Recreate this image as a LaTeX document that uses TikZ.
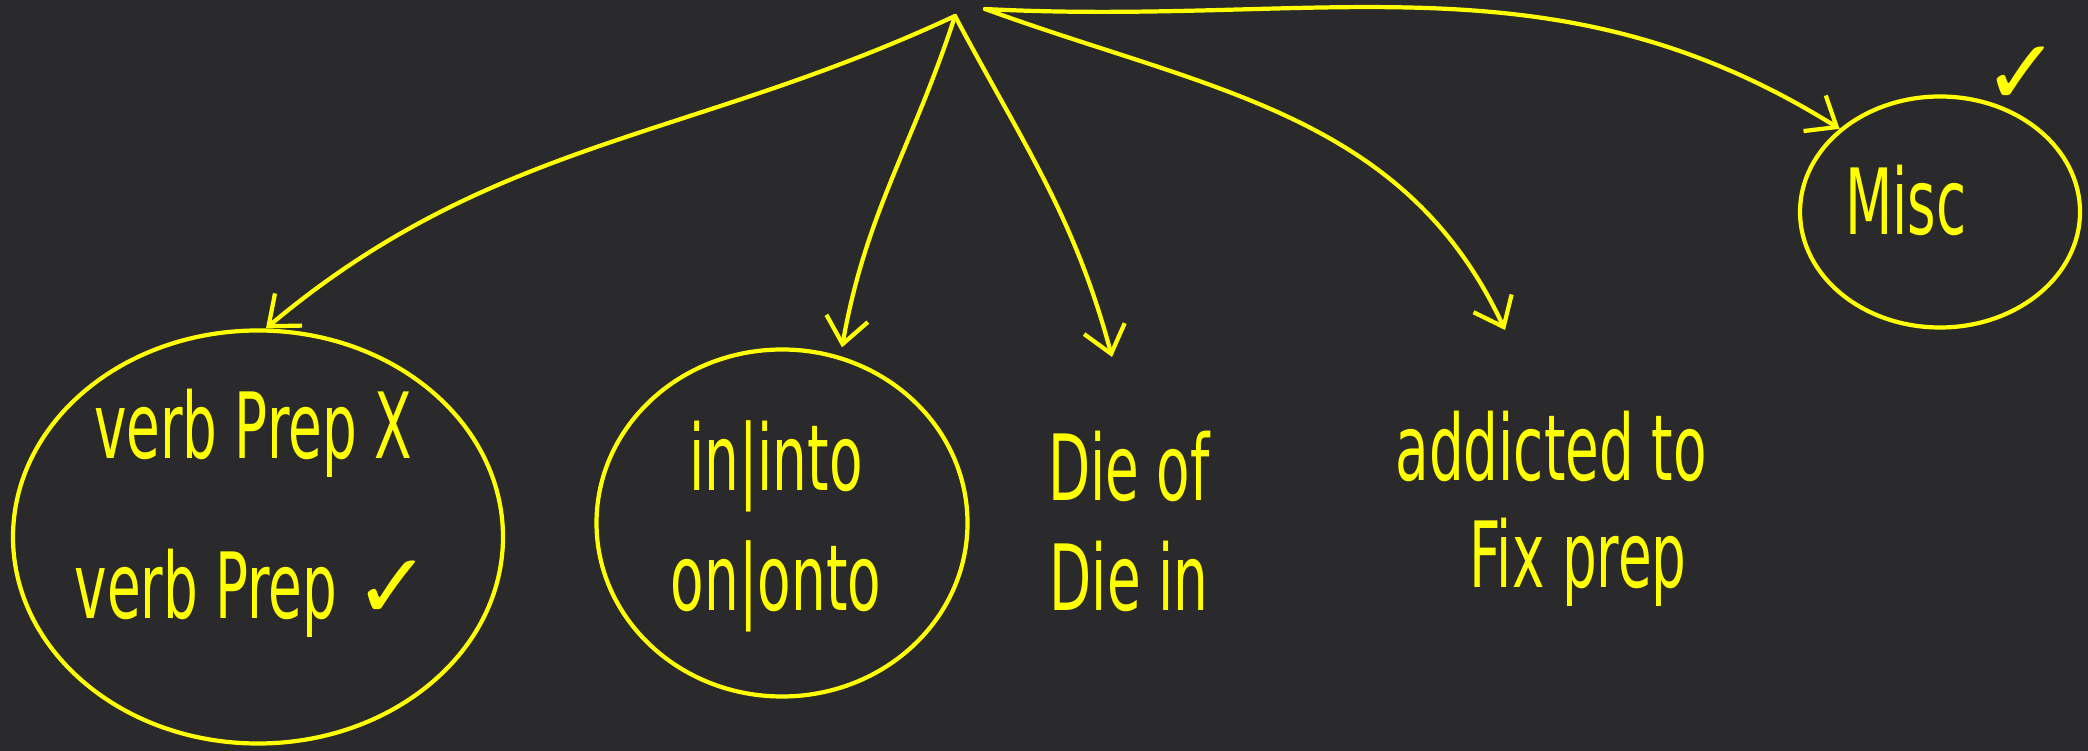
\documentclass[tikz,border=0pt]{standalone}
\usepackage{fontspec}
\newfontfamily\handfont[FakeStretch=0.6]{DejaVu Sans}
\newfontfamily\markfont{DejaVu Sans}
\usepackage{tikz}
\usetikzlibrary{positioning}
\usetikzlibrary{shapes.geometric}
\usetikzlibrary{arrows.meta}

\definecolor{board}{RGB}{42,42,44}
\definecolor{chalk}{RGB}{255,255,0}

\tikzset{
    hand/.style={text=chalk, font=\handfont\fontsize{26}{30}\selectfont, inner sep=0pt},
    grp/.style={draw=chalk, ellipse, line width=1.2pt, inner sep=0pt},
    branch/.style={draw=chalk, line width=1.2pt, line cap=round, -{Straight Barb[length=2.6mm, width=4.2mm]}}
}

\begin{document}
\begin{tikzpicture}[node distance=1.2cm, on grid]
    \path[use as bounding box, fill=board] (0,0) rectangle (20.88,7.51);

    \coordinate (root) at (9.55,7.35);
    \coordinate (rootr) at (9.85,7.42);

    \node[grp, minimum width=4.9cm, minimum height=4.13cm] (verbgrp) at (2.58,2.14) {};
    \node[hand] (vpx) at (2.53,3.18) {verb Prep X};
    \node[hand, below=1.6cm of vpx] (vpc) {verb Prep {\markfont\fontsize{26}{26}\selectfont ✓}};

    \node[grp, minimum width=3.71cm, minimum height=3.47cm] (ingrp) at (7.82,2.28) {};
    \node[hand] (inin) at (7.76,2.85) {in|into};
    \node[hand, below=1.2cm of inin] (onon) {on|onto};

    \node[hand] (dieof) at (11.29,2.85) {Die of};
    \node[hand, below=1.1cm of dieof] (diein) {Die in};
    \coordinate (dietop) at (11.12,3.94);

    \node[hand] (addicted) at (15.51,3.05) {addicted to};
    \node[hand, below right=1.16cm and 0.27cm of addicted] (fixprep) {Fix prep};
    \coordinate (fixtop) at (15.05,4.21);

    \node[grp, minimum width=2.8cm, minimum height=2.31cm] (miscgrp) at (19.40,5.39) {};
    \node[hand] (misc) at (19.06,5.51) {Misc};
    \node[hand, font=\markfont\fontsize{26}{26}\selectfont] (misccheck) at (20.22,6.75) {✓};

    \draw[branch] (root) to[out=205, in=40] ([xshift=0.08cm]verbgrp.north);
    \draw[branch] (root) to[out=252, in=80] ([xshift=0.6cm]ingrp.north);
    \draw[branch] (root) to[out=-62, in=105] (dietop);
    \draw[branch] (rootr) to[out=-20, in=115] (fixtop);
    \draw[branch] (rootr) to[out=-3, in=148] (miscgrp.north west);
\end{tikzpicture}
\end{document}
